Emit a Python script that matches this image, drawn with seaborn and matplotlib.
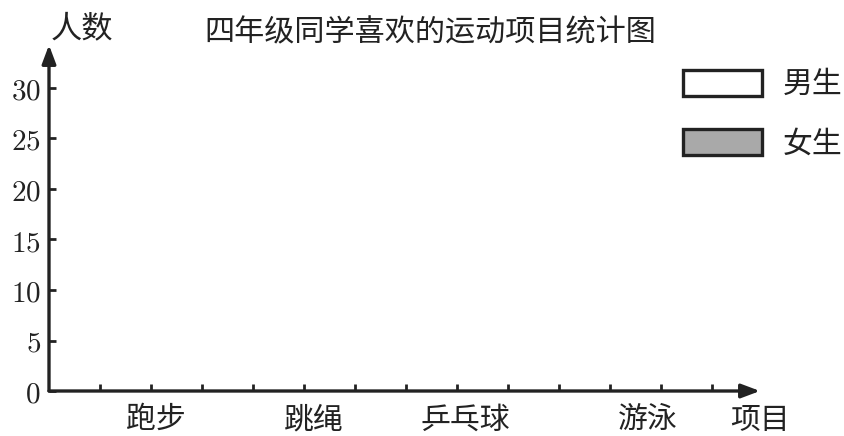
"""Blank double-bar chart template: 四年级同学喜欢的运动项目统计图."""
import matplotlib

matplotlib.use("Agg")
import matplotlib.pyplot as plt
import seaborn as sns
from matplotlib.patches import Patch

# chart content (the template has no bars drawn yet)
title = "四年级同学喜欢的运动项目统计图"
categories = ["跑步", "跳绳", "乒乓球", "游泳"]
series = ["男生", "女生"]
series_colors = ["#ffffff", "#a9a9a9"]
y_ticks = [0, 5, 10, 15, 20, 25, 30]
x_ticks = list(range(1, 14))
y_label = "人数"
x_label = "项目"

# layout: where each category label sits on the x scale
label_pos = [2.1, 5.2, 8.16, 11.75]

sns.set_theme(style="white")
plt.rcParams["font.family"] = ["Noto Sans CJK SC", "DejaVu Sans"]
plt.rcParams["mathtext.fontset"] = "cm"

ink = "#222222"
fig = plt.figure(figsize=(8.45, 4.36), dpi=100)
ax = fig.add_axes([49 / 845, 45 / 436, 711 / 845, 346 / 436])
ax.set_xlim(0, 711 / 51)
ax.set_ylim(0, 346 / 10.1)
for side in ax.spines.values():
    side.set_visible(False)

# axes with arrow heads
arrow = dict(arrowstyle="-|>,head_length=0.8,head_width=0.3", lw=2.4, color=ink,
             shrinkA=0, shrinkB=0, mutation_scale=14)
ax.annotate("", xy=(1.0, 0), xytext=(0, 0), xycoords="axes fraction", arrowprops=arrow,
            annotation_clip=False)
ax.annotate("", xy=(0, 1.0), xytext=(0, 0), xycoords="axes fraction", arrowprops=arrow,
            annotation_clip=False)

ax.set_yticks(y_ticks)
ax.set_yticklabels([f"${v}$" for v in y_ticks], fontsize=21, color=ink)
ax.set_xticks(x_ticks)
ax.set_xticklabels([])
ax.tick_params(axis="both", direction="in", length=5, width=2, color=ink, pad=6,
               left=True, bottom=True)

for pos, name in zip(label_pos, categories):
    ax.text(pos, -2.85, name, ha="center", va="center", fontsize=21.5, color=ink, clip_on=False)
ax.text(13.95, -2.95, x_label, ha="center", va="center", fontsize=21.5, color=ink, clip_on=False)

fig.text(82 / 845, 1 - 28 / 436, y_label, ha="center", va="center", fontsize=22.5, color=ink)
fig.text(430 / 845, 1 - 33 / 436, title, ha="center", va="center", fontsize=21.7, color=ink)

handles = [Patch(facecolor=c, edgecolor=ink, linewidth=2.4) for c in series_colors]
fig.legend(handles, series, loc="upper left", bbox_to_anchor=(683 / 845, 1 - 69 / 436),
           frameon=False, borderpad=0, borderaxespad=0, fontsize=21.5, handlelength=2.65,
           handleheight=0.95, labelspacing=0.95, handletextpad=0.7, labelcolor=ink)

fig.savefig("out.png", dpi=100)
